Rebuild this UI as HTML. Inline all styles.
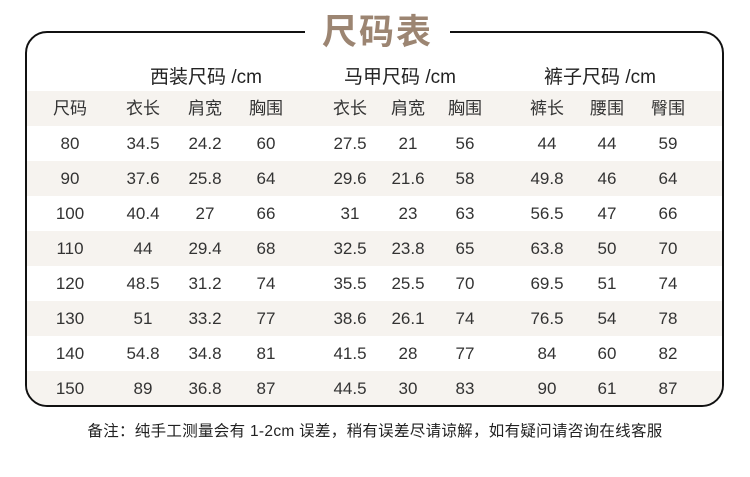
<!DOCTYPE html>
<html><head><meta charset="utf-8"><style>
body{margin:0;width:750px;height:477px;background:#fff;position:relative;overflow:hidden;font-family:"Liberation Sans","Noto Sans CJK SC",sans-serif;color:#333}
.frame{position:absolute;left:25px;top:31px;width:695px;height:372px;border:2px solid #111;border-radius:22px;overflow:hidden}
.gap{position:absolute;left:305px;top:25px;width:145px;height:12px;background:#fff}
.title{position:absolute;left:300px;top:11px;width:155px;text-align:center;font-size:35px;color:#9c8572;font-weight:bold;letter-spacing:2px;line-height:44px}
.row{position:absolute;left:0;width:100%;height:35px}
.b{background:#f6f3ef}
.c{position:absolute;top:0;line-height:35px;font-size:17px;transform:translateX(-50%);white-space:nowrap}
.g{position:absolute;top:62px;font-size:19px;transform:translateX(-50%);white-space:nowrap;color:#222}
.foot{position:absolute;top:419px;left:0;width:750px;text-align:center;font-size:15.5px;color:#222;letter-spacing:0.3px}
</style></head><body>
<div class="frame" id="f"></div>
<div class="gap"></div>
<div class="title">尺码表</div>
<div class="g" style="left:206px">西装尺码 /cm</div>
<div class="g" style="left:400px">马甲尺码 /cm</div>
<div class="g" style="left:600px">裤子尺码 /cm</div>
<div class="foot">备注：纯手工测量会有 1-2cm 误差，稍有误差尽请谅解，如有疑问请咨询在线客服</div>
<script>
var xs=[70,143,205,266,350,408,465,547,607,668];
var rows=[["尺码","衣长","肩宽","胸围","衣长","肩宽","胸围","裤长","腰围","臀围"],
["80","34.5","24.2","60","27.5","21","56","44","44","59"],
["90","37.6","25.8","64","29.6","21.6","58","49.8","46","64"],
["100","40.4","27","66","31","23","63","56.5","47","66"],
["110","44","29.4","68","32.5","23.8","65","63.8","50","70"],
["120","48.5","31.2","74","35.5","25.5","70","69.5","51","74"],
["130","51","33.2","77","38.6","26.1","74","76.5","54","78"],
["140","54.8","34.8","81","41.5","28","77","84","60","82"],
["150","89","36.8","87","44.5","30","83","90","61","87"]];
var f=document.getElementById('f'),h='';
rows.forEach(function(r,i){h+='<div class="row'+(i%2==0?' b':'')+'" style="top:'+(58+i*35)+'px">';
r.forEach(function(t,j){h+='<div class="c" style="left:'+(xs[j]-27)+'px">'+t+'</div>';});h+='</div>';});
f.innerHTML=h;
</script>
</body></html>
